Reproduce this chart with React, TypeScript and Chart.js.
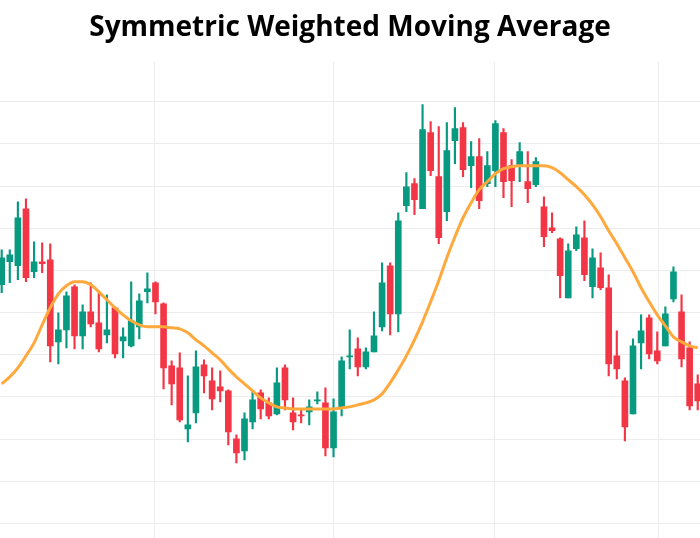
import React, { useEffect, useRef } from "react";
import { Chart, registerables } from "chart.js";

Chart.register(...registerables);

const TITLE = "Symmetric Weighted Moving Average";

// Candle OHLC values (index = bar number)
const opens = [315, 338, 334, 391, 328, 338, 340, 258, 270, 313, 264, 288, 277, 265, 292, 259, 254, 273, 308, 317,
  296, 234, 232, 171, 187, 235, 219, 213, 209, 161, 149, 178, 207, 197, 186, 232, 187, 185, 188, 199,
  197, 152, 193, 243, 251, 233, 248, 273, 334, 286, 394, 416, 391, 467, 423, 388, 459, 472, 434, 443,
  416, 429, 467, 434, 434, 418, 415, 393, 372, 361, 302, 351, 362, 313, 332, 312, 244, 219, 186, 257,
  282, 249, 254, 301, 288, 252, 216];
const highs = [350, 350, 398, 401, 358, 357, 356, 287, 308, 315, 295, 317, 307, 305, 293, 272, 318, 306, 327, 318,
  297, 239, 247, 224, 249, 240, 232, 229, 210, 165, 187, 209, 210, 202, 232, 235, 202, 191, 200, 208,
  212, 201, 243, 270, 262, 252, 288, 337, 337, 387, 427, 421, 495, 478, 473, 477, 492, 477, 458, 461,
  448, 479, 471, 440, 457, 448, 442, 403, 387, 362, 356, 373, 379, 351, 347, 325, 269, 222, 261, 285,
  285, 268, 293, 333, 305, 258, 225];
const lows = [307, 317, 320, 318, 322, 327, 238, 236, 252, 251, 251, 273, 248, 257, 242, 242, 253, 261, 297, 286,
  211, 195, 178, 158, 177, 207, 190, 198, 155, 137, 140, 171, 181, 181, 185, 190, 170, 177, 175, 196,
  144, 143, 184, 231, 224, 231, 248, 269, 265, 268, 388, 385, 391, 424, 356, 379, 436, 423, 412, 391,
  413, 413, 402, 393, 418, 397, 413, 353, 367, 302, 302, 349, 319, 302, 310, 224, 221, 159, 186, 231,
  241, 236, 254, 298, 233, 190, 190];
const closes = [342, 345, 382, 322, 338, 336, 254, 270, 304, 264, 288, 276, 251, 270, 246, 263, 279, 299, 311, 298,
  232, 216, 180, 175, 233, 224, 201, 209, 168, 147, 181, 200, 191, 184, 217, 200, 178, 184, 193, 200,
  152, 188, 239, 244, 233, 248, 264, 317, 286, 379, 413, 400, 470, 429, 362, 449, 471, 430, 443, 399,
  434, 476, 418, 419, 448, 411, 438, 363, 369, 324, 349, 365, 325, 342, 312, 236, 231, 173, 254, 269,
  246, 239, 286, 328, 241, 194, 199];

// Symmetric weighted moving average line
const swma = [216, 223, 232, 244, 257, 275, 292, 306, 314, 318, 318, 315, 308, 300, 292, 285, 279, 275, 273, 273,
  273, 272, 271, 267, 260, 254, 247, 240, 231, 223, 216, 209, 202, 197, 193, 192, 191, 191, 191, 191,
  191, 191, 192, 193, 195, 197, 200, 206, 217, 230, 244, 260, 278, 298, 319, 342, 363, 382, 397, 410,
  418, 426, 431, 433, 434, 434, 434, 434, 432, 427, 420, 413, 405, 395, 383, 369, 356, 342, 328, 312,
  298, 285, 274, 263, 258, 254, 252];

// Gridline positions
const xGridTicks = [18.86, 40.97, 60.95, 81.13];
const yGridTicks = [76, 118, 160, 203, 245, 287, 329, 371, 413, 456, 498];

const UP = "#089981";
const DOWN = "#F23645";
const LINE = "#FFA83C";

export default function App() {
  const ref = useRef<HTMLCanvasElement | null>(null);

  useEffect(() => {
    if (!ref.current) return;
    const color = (i: number) => (closes[i] >= opens[i] ? UP : DOWN);
    const chart = new Chart(ref.current, {
      type: "bar",
      data: {
        datasets: [
          {
            type: "line",
            data: swma.map((v, i) => ({ x: i, y: v })),
            borderColor: LINE,
            borderWidth: 3,
            pointRadius: 0,
            tension: 0.4,
            cubicInterpolationMode: "monotone",
            order: 0,
          } as any,
          {
            data: opens.map((o, i) => ({ x: i, y: [o, closes[i]] })),
            backgroundColor: (ctx: any) => color(ctx.dataIndex),
            barThickness: 6,
            grouped: false,
            minBarLength: 1,
            order: 1,
          } as any,
          {
            data: lows.map((l, i) => ({ x: i, y: [l, highs[i]] })),
            backgroundColor: (ctx: any) => color(ctx.dataIndex),
            barThickness: 1.5,
            grouped: false,
            order: 2,
          } as any,
        ],
      },
      options: {
        responsive: false,
        animation: false,
        layout: { padding: 0 },
        plugins: {
          legend: { display: false },
          tooltip: { enabled: false },
          title: {
            display: true,
            text: TITLE,
            color: "#000000",
            font: { family: "'Open Sans'", size: 28, weight: "bold" },
            padding: { top: 11, bottom: 17 },
          },
        },
        scales: {
          x: {
            type: "linear",
            min: -0.21,
            max: 86.28,
            offset: false,
            grid: { color: "#ececec", drawTicks: false, lineWidth: 1, offset: false },
            border: { display: false },
            ticks: { display: false },
            afterBuildTicks: (s: any) => {
              s.ticks = xGridTicks.map((v) => ({ value: v }));
            },
          },
          y: {
            min: 62,
            max: 538,
            grid: { color: "#ececec", drawTicks: false, lineWidth: 1 },
            border: { display: false },
            ticks: { display: false },
            afterBuildTicks: (s: any) => {
              s.ticks = yGridTicks.map((v) => ({ value: v }));
            },
          },
        },
      } as any,
    });
    return () => chart.destroy();
  }, []);

  return (
    <div style={{ position: "fixed", left: 0, top: 0, width: 700, height: 538, background: "#fff" }}>
      <canvas ref={ref} width={700} height={538} style={{ display: "block" }} />
    </div>
  );
}
